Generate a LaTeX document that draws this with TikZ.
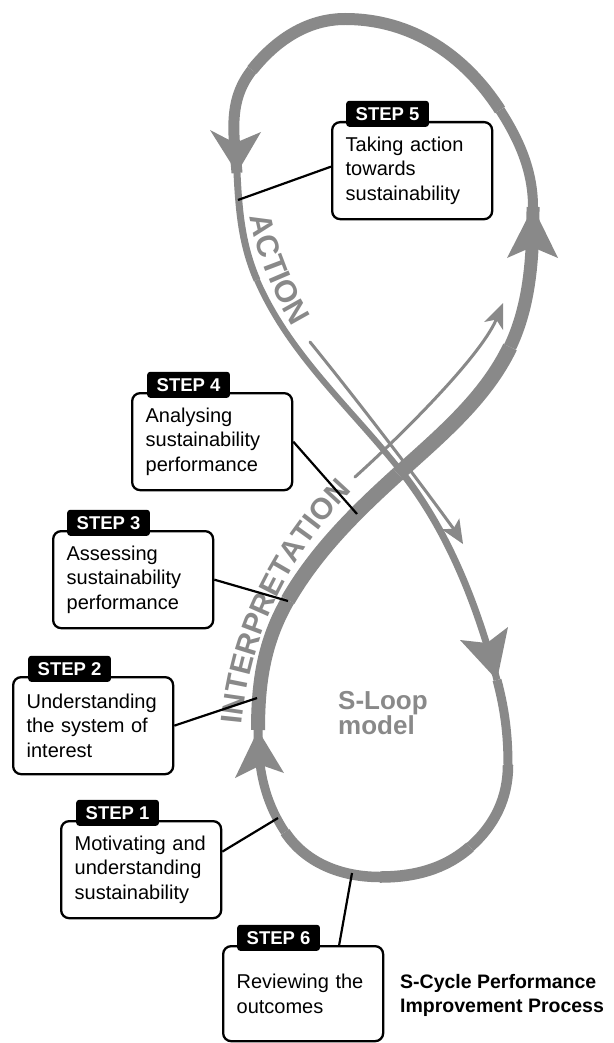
\documentclass[tikz,border=0pt]{standalone}
\usepackage{fontspec}
\setmainfont{Liberation Sans}
\usetikzlibrary{decorations.text}
\definecolor{loopgray}{RGB}{137,137,137}
\begin{document}
\begin{tikzpicture}[x=1pt,y=-1pt,
  strand/.style={draw=loopgray, line cap=butt, line join=round},
  thinstrand/.style={draw=loopgray, line width=3pt, line cap=round},
  tiphead/.style={fill=loopgray},
  stepbox/.style={draw=black, line width=2.3pt, fill=white, rounded corners=8pt,
    align=left, text width=133pt, inner xsep=13.5pt, inner ysep=0pt,
    minimum height=97pt, anchor=north west,
    font=\fontsize{20}{24.5}\selectfont},
  steptab/.style={fill=black, text=white, rounded corners=3pt, inner xsep=9.5pt,
    inner ysep=0pt, minimum height=26pt, anchor=south west,
    font=\fontsize{18.5}{18.5}\selectfont\bfseries},
  leader/.style={draw=black, line width=2.2pt}
]
\useasboundingbox (0,0) rectangle (613,1043);

% points along the S-loop (figure of eight)
\coordinate (A) at (258,730);
\coordinate (B) at (288,600);
\coordinate (C) at (398,474);
\coordinate (D) at (510,347);
\coordinate (E) at (533,207);
\coordinate (F) at (500,110);
\coordinate (G) at (345,19);
\coordinate (H) at (252,70);
\coordinate (I) at (237,173);
\coordinate (J) at (257,280);
\coordinate (K) at (400,470);
\coordinate (L) at (497,680);
\coordinate (M) at (508,765);
\coordinate (N) at (470,847);
\coordinate (O) at (380,877);
\coordinate (P) at (285,832);

% interpretation strand (thick)
\draw[strand, line width=14pt] (A) .. controls (258,682) and (264,641.5) .. (B);
\draw[strand, line width=15pt] (B) .. controls (316.6,550.7) and (355.8,512.2) .. (C);
\draw[strand, line width=15pt] (C) .. controls (440.2,435.8) and (485.5,398.3) .. (D);
\draw[strand, line width=13pt] (D) .. controls (530.6,303.8) and (533,255) .. (E);
% upper loop
\draw[strand, line width=10pt] (E) .. controls (533,171) and (519.4,140.2) .. (F);
\draw[strand, line width=12pt] (F) .. controls (464.4,54.6) and (411,19) .. (G);
\draw[strand, line width=12pt] (G) .. controls (307,19) and (275.6,40.4) .. (H);
\draw[strand, line width=11pt] (H) .. controls (227.2,101.2) and (234,135) .. (I);
% action strand (thin)
\draw[strand, line width=7pt] (I) .. controls (238.9,211) and (241.8,245) .. (J);
\draw[strand, line width=6pt] (J) .. controls (289.4,354.5) and (349.8,406.8) .. (K);
\draw[strand, line width=7pt] (K) .. controls (448.4,530.8) and (476.7,604.3) .. (L);
% lower loop
\draw[strand, line width=9pt] (L) .. controls (504.8,709.1) and (508,735) .. (M);
\draw[strand, line width=10.5pt] (M) .. controls (508,798) and (494.75,825.2) .. (N);
\draw[strand, line width=11.5pt] (N) .. controls (444.5,869.4) and (414,877) .. (O);
\draw[strand, line width=10.5pt] (O) .. controls (342,877) and (305.9,863.5) .. (P);
\draw[strand, line width=9pt] (P) .. controls (264.1,800.5) and (258,768) .. (A);

% arrowheads on the loop
\fill[tiphead] (A) -- (235,778) -- (261,765) -- (284,773) -- cycle;
\fill[tiphead] (E) -- (507,258) -- (532,247) -- (558,258) -- cycle;
\fill[tiphead] (I) -- (210,130) -- (235,143) -- (261,132) -- cycle;
\fill[tiphead] (L) -- (460,640) -- (487,643) -- (508,627) -- cycle;

% direction arrows beside the strands
\coordinate (actstart) at (310,342);
\coordinate (actend) at (453.5,528.7);
\coordinate (acttip) at (463,544);
\draw[thinstrand] (actstart) .. controls (345,385) and (405,462) .. (actend);
\fill[tiphead] (acttip) -- (441.7,529.3) -- (actend) -- (459.3,518.3) -- cycle;

\coordinate (intstart) at (355,477);
\coordinate (intend) at (496.2,319.6);
\coordinate (inttip) at (503,303);
\draw[thinstrand] (intstart) .. controls (395,441) and (479,359) .. (intend);
\fill[tiphead] (inttip) -- (484,322) -- (intend) -- (503,330) -- cycle;

% curved labels
\path[decorate, decoration={text along path, text align=center,
  text={|\fontsize{31}{31}\selectfont\bfseries\color{loopgray}|ACTION}}]
  (245,175) .. controls (249,235) and (265,290) .. (316,362);
\path[decorate, decoration={text along path, text align=center,
  text={|\fontsize{30}{30}\selectfont\bfseries\color{loopgray}|INTERPRETATION}}]
  (240,758) .. controls (241,655) and (281,553) .. (376,468);

\node[anchor=north west, inner sep=0pt, align=left, text=loopgray,
  font=\fontsize{26}{25}\selectfont\bfseries] (sloop) at (338,691) {S-Loop\\model};

% leader lines from the steps to the loop
\coordinate (c5) at (238,200);
\coordinate (c4) at (357,514);
\coordinate (c3) at (288,601);
\coordinate (c2) at (257,698);
\coordinate (c1) at (278,818);
\coordinate (c6) at (352,873);

% step boxes
\node[stepbox] (s5) at (331,121) {Taking action\\towards\\sustainability};
\node[stepbox] (s4) at (131,392) {Analysing\\sustainability\\performance};
\node[stepbox] (s3) at (52,530) {Assessing\\sustainability\\performance};
\node[stepbox] (s2) at (12,676) {Understanding\\the system of\\interest};
\node[stepbox] (s1) at (60,820) {Motivating and\\understanding\\sustainability};
\node[stepbox, minimum height=95pt] (s6) at (222,945) {Reviewing the\\outcomes};

\draw[leader] ([shift={(0,-4)}]s5.west) -- (c5);
\draw[leader] (s4.east) -- (c4);
\draw[leader] (s3.east) -- (c3);
\draw[leader] (s2.east) -- (c2);
\draw[leader] ([shift={(0,-18)}]s1.east) -- (c1);
\draw[leader] ([shift={(36,0)}]s6.north) -- (c6);

\node[steptab] (t5) at ([shift={(15,6)}]s5.north west) {STEP 5};
\node[steptab] (t4) at ([shift={(16,6)}]s4.north west) {STEP 4};
\node[steptab] (t3) at ([shift={(15,6)}]s3.north west) {STEP 3};
\node[steptab] (t2) at ([shift={(16,6)}]s2.north west) {STEP 2};
\node[steptab] (t1) at ([shift={(16,6)}]s1.north west) {STEP 1};
\node[steptab] (t6) at ([shift={(15,6)}]s6.north west) {STEP 6};

\node[anchor=north west, inner sep=0pt, align=left,
  font=\fontsize{19.5}{24}\selectfont\bfseries] (title) at (400,974)
  {S-Cycle Performance\\Improvement Process};
\end{tikzpicture}
\end{document}
